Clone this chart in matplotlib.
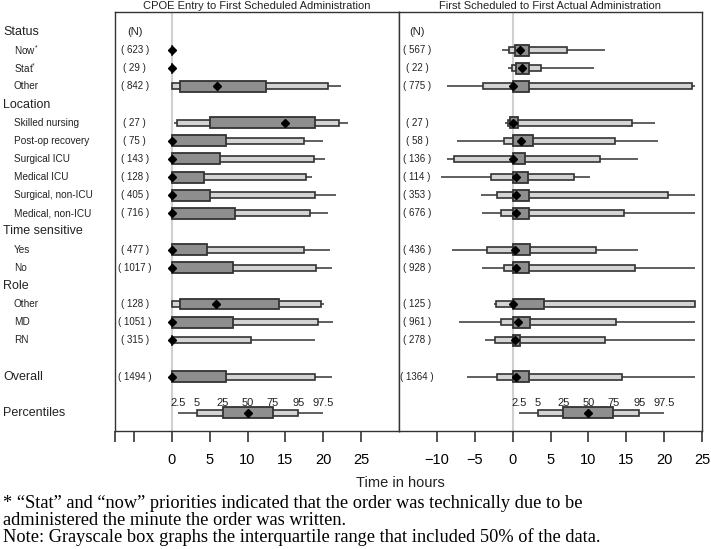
import matplotlib
matplotlib.use("Agg")
import matplotlib.pyplot as plt
from matplotlib.patches import Rectangle
from matplotlib.transforms import blended_transform_factory
import numpy as np

plt.rcParams['font.family'] = ['Liberation Sans', 'DejaVu Sans']
plt.rcParams['mathtext.fontset'] = 'custom'
plt.rcParams['mathtext.rm'] = 'Liberation Sans'

# ---- data ----
headers = ["Status", "Location", "Time sensitive", "Role", "Overall", "Percentiles"]
header_rows = [0, 4, 11, 14, 19, 21]
sub_labels = ["Now$^{*}$", "Stat$^{*}$", "Other", "Skilled nursing", "Post-op recovery",
              "Surgical ICU", "Medical ICU", "Surgical, non-ICU", "Medical, non-ICU",
              "Yes", "No", "Other", "MD", "RN"]
sub_rows = [1, 2, 3, 5, 6, 7, 8, 9, 10, 12, 13, 15, 16, 17]
box_rows = sub_rows + [19]

n_left = [623, 29, 842, 27, 75, 143, 128, 405, 716, 477, 1017, 128, 1051, 315, 1494]
n_right = [567, 22, 775, 27, 58, 136, 114, 353, 676, 436, 928, 125, 961, 278, 1364]

# percentiles 2.5, 5, 25, 50, 75, 95, 97.5 (hours)
left_p025 = [0, 0, 0, 0.3, 0, 0, 0, 0, 0, 0, 0, 0, 0, 0, 0]
left_p05 = [0, 0, 0, 0.7, 0, 0, 0, 0, 0, 0, 0, 0, 0, 0, 0]
left_p25 = [0, 0, 1.1, 5.1, 0, 0, 0, 0, 0, 0, 0, 1.1, 0, 0, 0]
left_p50 = [0, 0, 6.0, 14.9, 0, 0, 0, 0, 0, 0, 0, 5.8, 0, 0, 0]
left_p75 = [0, 0, 12.5, 18.9, 7.1, 6.3, 4.3, 5.1, 8.4, 4.7, 8.1, 14.2, 8.1, 0, 7.1]
left_p95 = [0, 0, 20.6, 22.1, 17.5, 18.8, 17.7, 18.9, 18.2, 17.4, 19.0, 19.7, 19.3, 10.5, 18.9]
left_p975 = [0, 0, 22.4, 23.3, 19.9, 20.2, 18.5, 21.7, 20.6, 20.9, 21.1, 20.1, 21.3, 18.9, 21.1]

right_p025 = [-1.4, -0.6, -8.7, -1.0, -7.4, -8.6, -9.5, -4.2, -4.0, -8.0, -4.0, -2.4, -7.1, -3.7, -6.0]
right_p05 = [-0.5, -0.1, -3.9, -0.6, -1.1, -7.8, -2.9, -2.1, -1.6, -3.4, -1.1, -2.2, -1.6, -2.3, -2.0]
right_p25 = [0.3, 0.5, 0, -0.4, 0, 0, 0, 0, 0, 0, 0, 0, 0, 0, 0]
right_p50 = [1.0, 1.2, 0, 0, 1.1, 0.1, 0.4, 0.5, 0.5, 0.3, 0.5, 0, 0.7, 0.3, 0.5]
right_p75 = [2.2, 2.2, 2.2, 0.7, 2.7, 1.6, 2.0, 2.2, 2.2, 2.3, 2.2, 4.1, 2.3, 1.0, 2.2]
right_p95 = [7.2, 3.8, 23.7, 15.8, 13.5, 11.5, 8.1, 20.5, 14.7, 11.0, 16.2, 24.1, 13.6, 12.2, 14.5]
right_p975 = [12.2, 10.8, 24.1, 18.8, 19.2, 16.5, 10.2, 24.1, 24.1, 16.5, 24.1, 24.1, 24.1, 24.1, 24.1]

legend_vals = [0.84, 3.3, 6.7, 10.0, 13.3, 16.7, 20.0]
legend_labels = ["2.5", "5", "25", "50", "75", "95", "97.5"]

left_title = "CPOE Entry to First Scheduled Administration"
right_title = "First Scheduled to First Actual Administration"

# ---- figure ----
W, H = 711, 549
fig = plt.figure(figsize=(W / 100, H / 100), dpi=100)
top = 1 - 12 / H
bot = 1 - 431 / H
axL = fig.add_axes([115 / W, bot, (399 - 115) / W, top - bot])
axR = fig.add_axes([399 / W, bot, (702 - 399) / W, top - bot])

LIGHT = '#d4d4d4'
DARK = '#8e8e8e'
EDGE = '#333333'


def draw_box(ax, y, q):
    p025, p05, p25, p50, p75, p95, p975 = q
    ax.plot([p025, p975], [y, y], color='#444444', lw=1.2, zorder=2, solid_capstyle='butt')
    hl = 0.34
    ax.add_patch(Rectangle((p05, y - hl / 2), p95 - p05, hl, facecolor=LIGHT,
                           edgecolor=EDGE, lw=1.2, zorder=3))
    hd = 0.6
    ax.add_patch(Rectangle((p25, y - hd / 2), p75 - p25, hd, facecolor=DARK,
                           edgecolor=EDGE, lw=1.3, zorder=4))
    ax.plot([p50], [y], marker='D', ms=4.2, color='black', zorder=5)


for ax, xlim in ((axL, (-7.5, 30)), (axR, (-15, 25))):
    ax.set_xlim(*xlim)
    ax.set_ylim(22.0, -1.1)
    ax.axvline(0, color='#d0d0d0', lw=1.5, zorder=1)
    ax.set_yticks([])
    for s in ax.spines.values():
        s.set_color('#333333')
        s.set_linewidth(1.0)
    ax.tick_params(axis='x', direction='out', length=8, width=1.2, color='#333333',
                   labelsize=10.5, pad=8)

axL.set_xticks([-7.5, -5, 0, 5, 10, 15, 20, 25])
axL.set_xticklabels(["", "", "0", "5", "10", "15", "20", "25"])
axR.set_xticks([-10, -5, 0, 5, 10, 15, 20, 25])
axR.set_xticklabels(["\u221210", "\u22125", "0", "5", "10", "15", "20", "25"])

left_q = list(zip(left_p025, left_p05, left_p25, left_p50, left_p75, left_p95, left_p975))
right_q = list(zip(right_p025, right_p05, right_p25, right_p50, right_p75, right_p95, right_p975))

for y, q in zip(box_rows, left_q):
    draw_box(axL, y, q)
for y, q in zip(box_rows, right_q):
    draw_box(axR, y, q)

# percentile legend
for ax in (axL, axR):
    draw_box(ax, 21, legend_vals)
    for v, lab in zip(legend_vals, legend_labels):
        ax.text(v, 20.45, lab, ha='center', va='center', fontsize=8, color='#222222')

# N labels
for y, n in zip(box_rows, n_left):
    axL.text(-4.9, y, f"( {n} )", ha='center', va='center', fontsize=7, color='#222222')
for y, n in zip(box_rows, n_right):
    axR.text(-12.6, y, f"( {n} )", ha='center', va='center', fontsize=7, color='#222222')
axL.text(-4.9, 0, "(N)", ha='center', va='center', fontsize=8, color='#222222')
axR.text(-12.6, 0, "(N)", ha='center', va='center', fontsize=8, color='#222222')

# row labels
tr = blended_transform_factory(fig.transFigure, axL.transData)
for lab, y in zip(headers, header_rows):
    fig.text(3 / W, y, lab, transform=tr, ha='left', va='center', fontsize=9, color='#222222')
for lab, y in zip(sub_labels, sub_rows):
    fig.text(14 / W, y, lab, transform=tr, ha='left', va='center', fontsize=7.2, color='#222222')

# titles
fig.text(257 / W, 1 - 6 / H, left_title, ha='center', va='center', fontsize=8, color='#222222')
fig.text(550 / W, 1 - 6 / H, right_title, ha='center', va='center', fontsize=8, color='#222222')

fig.text(400 / W, 1 - 483 / H, "Time in hours", ha='center', va='center', fontsize=10.5, color='#222222')

foot = ["* \u201cStat\u201d and \u201cnow\u201d priorities indicated that the order was technically due to be",
        "administered the minute the order was written.",
        "Note: Grayscale box graphs the interquartile range that included 50% of the data."]
for i, line in enumerate(foot):
    fig.text(3 / W, 1 - (504 + 16.4 * i) / H, line, ha='left', va='center', fontsize=13.2,
             family=['Liberation Serif', 'DejaVu Serif'], color='black')

fig.savefig("out.png", dpi=100)
